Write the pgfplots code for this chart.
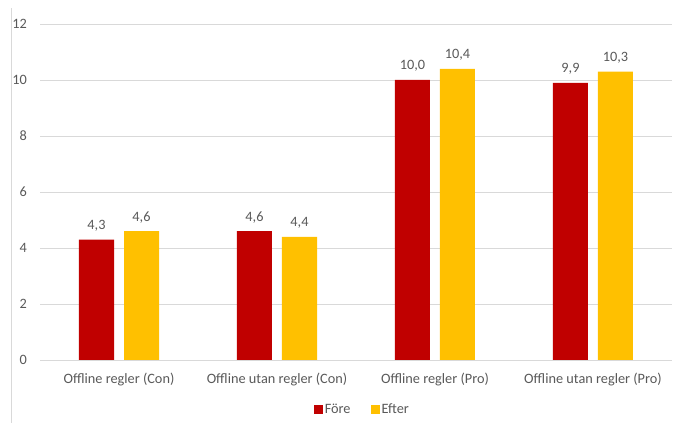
\documentclass[border=0pt]{standalone}
\usepackage{fontspec}
\setmainfont{Carlito}
\usepackage{pgfplots}
\pgfplotsset{compat=1.18}
\definecolor{bred}{HTML}{C00000}
\definecolor{byel}{HTML}{FFC000}
\definecolor{txt}{HTML}{595959}
\definecolor{grd}{HTML}{D9D9D9}
\begin{document}
\begin{tikzpicture}
\useasboundingbox (0,0) rectangle (689pt,423pt);
\draw[grd, line width=0.8pt] (11pt,0) -- (11pt,415pt);
\begin{axis}[
    at={(40pt,63pt)}, anchor=south west,
    scale only axis,
    width=632pt, height=336pt,
    xmin=-0.5, xmax=3.5, ymin=0, ymax=12,
    xtick={0,1,2,3},
    xticklabels={Offline regler (Con), Offline utan regler (Con), Offline regler (Pro), Offline utan regler (Pro)},
    ytick={0,2,...,12},
    major tick length=0pt,
    axis line style={draw=none},
    ymajorgrids,
    major grid style={grd, line width=0.8pt},
    /pgf/number format/assume math mode=true,
    tick label style={font=\fontsize{14.3}{17}\selectfont, text=txt},
    yticklabel style={anchor=east, inner sep=0pt, xshift=-13pt},
    xticklabel style={anchor=north, inner sep=0pt, yshift=-13pt},
    ybar=10pt, bar width=35pt,
    nodes near coords,
    nodes near coords style={font=\fontsize{14.3}{17}\selectfont, text=txt, anchor=south, inner sep=0pt, yshift=8pt,
        /pgf/number format/.cd, fixed, fixed zerofill, precision=1, use comma},
    legend style={at={(rel axis cs:0.51,-0.146)}, anchor=center, draw=none,
        font=\fontsize{14.3}{17}\selectfont, text=txt, legend columns=2,
        /tikz/every even column/.append style={column sep=18pt}},
    legend image code/.code={\fill[#1] (0pt,-4.5pt) rectangle (9pt,4.5pt);},
]
\addplot[fill=bred, draw=none] coordinates {(0,4.3) (1,4.6) (2,10.0) (3,9.9)};
\addplot[fill=byel, draw=none] coordinates {(0,4.6) (1,4.4) (2,10.4) (3,10.3)};
\legend{Före, Efter}
\end{axis}
\end{tikzpicture}
\end{document}
